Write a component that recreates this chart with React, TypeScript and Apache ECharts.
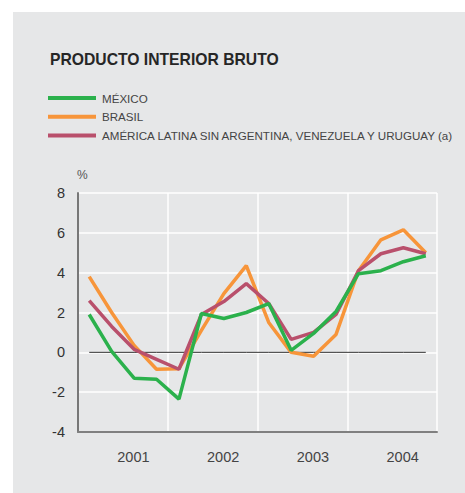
import React, { useEffect, useRef } from "react";
import * as echarts from "echarts";

const quarters = [
  "2001T1", "2001T2", "2001T3", "2001T4",
  "2002T1", "2002T2", "2002T3", "2002T4",
  "2003T1", "2003T2", "2003T3", "2003T4",
  "2004T1", "2004T2", "2004T3", "2004T4",
];
const years = ["2001", "2002", "2003", "2004"];
const mexico = [1.9, 0.05, -1.3, -1.35, -2.35, 1.95, 1.7, 2.0, 2.45, 0.1, 0.95, 2.05, 3.95, 4.1, 4.55, 4.85];
const brasil = [3.8, 2.0, 0.35, -0.85, -0.82, 1.1, 2.95, 4.35, 1.5, 0.0, -0.2, 0.9, 4.1, 5.65, 6.15, 5.0];
const latam = [2.6, 1.3, 0.15, -0.35, -0.85, 1.9, 2.55, 3.45, 2.45, 0.65, 1.0, 1.9, 4.1, 4.95, 5.25, 4.95];
const zeroLine = quarters.map(() => 0);

const NAME_MX = "MÉXICO";
const NAME_BR = "BRASIL";
const NAME_AL = "AMÉRICA LATINA SIN ARGENTINA, VENEZUELA Y URUGUAY (a)";

export default function App() {
  const ref = useRef<HTMLDivElement>(null);
  useEffect(() => {
    document.body.style.margin = "0";
    const chart = echarts.init(ref.current!, null, { renderer: "svg" });
    const font = "Liberation Sans, Arial, sans-serif";
    chart.setOption({
      animation: false,
      backgroundColor: "#ffffff",
      textStyle: { fontFamily: font },
      graphic: [
        {
          type: "rect",
          z: -10,
          silent: true,
          shape: { x: 13, y: 12, width: 452, height: 481 },
          style: { fill: "#e6e7e8" },
        },
        {
          type: "text",
          left: 50,
          top: 51,
          style: {
            text: "PRODUCTO INTERIOR BRUTO",
            font: "bold 15.7px Liberation Sans, Arial, sans-serif",
            fill: "#262626",
          },
        },
        {
          type: "text",
          left: 77,
          top: 169,
          style: {
            text: "%",
            font: "12px Liberation Sans, Arial, sans-serif",
            fill: "#555555",
          },
        },
      ],
      legend: {
        orient: "vertical",
        left: 48,
        top: 91.5,
        padding: 0,
        itemWidth: 48,
        itemHeight: 4,
        itemGap: 5.8,
        icon: "rect",
        data: [NAME_MX, NAME_BR, NAME_AL],
        textStyle: { fontSize: 11.6, color: "#444444", lineHeight: 13, padding: [0, 0, 0, 1] },
      },
      grid: { left: 78, top: 193, right: 28, bottom: 61 },
      xAxis: [
        {
          type: "category",
          data: quarters,
          boundaryGap: true,
          axisLine: { show: false },
          axisTick: { show: false },
          axisLabel: { show: false },
          splitLine: { show: false },
        },
        {
          type: "category",
          data: years,
          boundaryGap: true,
          position: "bottom",
          axisLine: { show: true, lineStyle: { color: "#808080", width: 2 } },
          axisTick: { show: false },
          axisLabel: { color: "#444444", fontSize: 14.5, margin: 17, padding: [0, 0, 0, 21] },
          splitLine: { show: true, interval: 0, lineStyle: { color: "#ffffff", width: 1.5 } },
        },
      ],
      yAxis: {
        type: "value",
        min: -4,
        max: 8,
        interval: 2,
        axisLine: { show: true, lineStyle: { color: "#777777", width: 2 } },
        axisTick: { show: false },
        axisLabel: { color: "#333333", fontSize: 14.5, margin: 13 },
        splitLine: { show: true, lineStyle: { color: "#ffffff", width: 1.5 } },
      },
      series: [
        {
          name: "zero",
          type: "line",
          xAxisIndex: 0,
          data: zeroLine,
          symbol: "none",
          lineStyle: { color: "#333333", width: 1 },
          z: 1,
          silent: true,
        },
        {
          name: NAME_AL,
          type: "line",
          xAxisIndex: 0,
          data: latam,
          symbol: "none",
          itemStyle: { color: "#b9506c" },
          lineStyle: { color: "#b9506c", width: 3.5 },
          z: 3,
        },
        {
          name: NAME_BR,
          type: "line",
          xAxisIndex: 0,
          data: brasil,
          symbol: "none",
          itemStyle: { color: "#f7953a" },
          lineStyle: { color: "#f7953a", width: 3.5 },
          z: 2,
        },
        {
          name: NAME_MX,
          type: "line",
          xAxisIndex: 0,
          data: mexico,
          symbol: "none",
          itemStyle: { color: "#2bb14c" },
          lineStyle: { color: "#2bb14c", width: 3.5 },
          z: 4,
        },
      ],
    });
    return () => chart.dispose();
  }, []);
  return <div ref={ref} style={{ width: 465, height: 493 }} />;
}
